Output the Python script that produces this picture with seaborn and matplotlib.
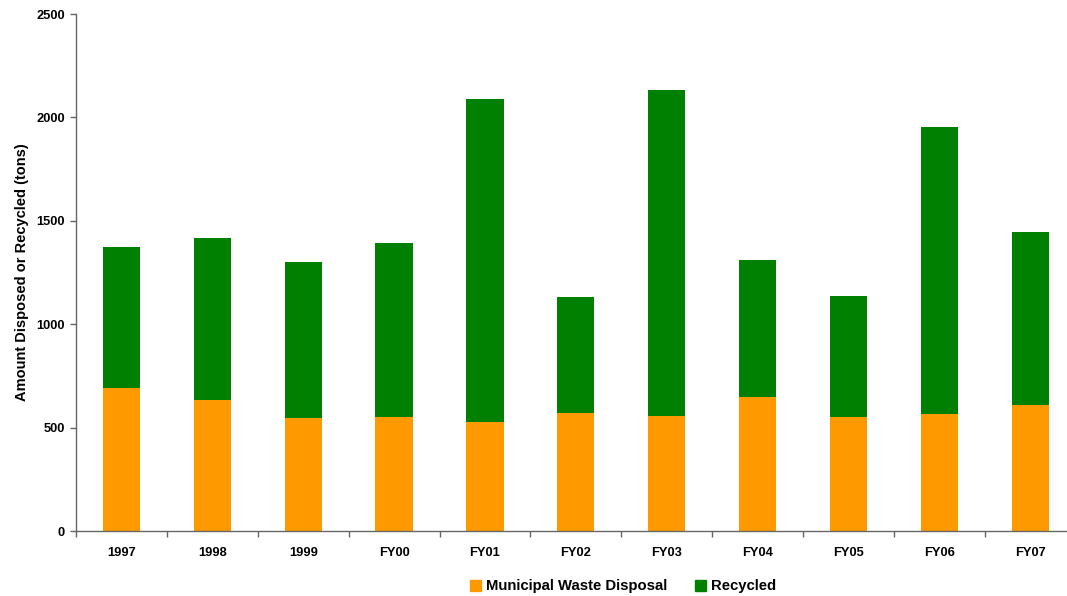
import pandas as pd
import seaborn as sns
import matplotlib.pyplot as plt
from matplotlib.patches import Patch

years = ['1997', '1998', '1999', 'FY00', 'FY01', 'FY02', 'FY03', 'FY04', 'FY05', 'FY06', 'FY07']
municipal = [691, 633, 546, 551, 527, 571, 556, 648, 551, 566, 609]
recycled = [682, 784, 755, 842, 1562, 561, 1577, 662, 585, 1388, 837]

df = pd.DataFrame({'Year': years, 'Municipal': municipal, 'Recycled': recycled})
df['Total'] = df['Municipal'] + df['Recycled']

sns.set_style('white')
plt.rcParams['font.family'] = ['Liberation Sans', 'DejaVu Sans']
plt.rcParams['font.weight'] = 'bold'
plt.rcParams['text.color'] = 'black'
plt.rcParams['axes.labelcolor'] = 'black'
plt.rcParams['xtick.color'] = 'black'
plt.rcParams['ytick.color'] = 'black'

orange = '#FF9900'
green = '#008000'

fig = plt.figure(figsize=(10.67, 5.96), dpi=100)
ax = fig.add_axes([0.0712, 0.109, 0.937, 0.8674])

# stacked: total in green, municipal drawn over it
sns.barplot(data=df, x='Year', y='Total', color=green, width=0.41, saturation=1,
            linewidth=0, ax=ax)
sns.barplot(data=df, x='Year', y='Municipal', color=orange, width=0.41, saturation=1,
            linewidth=0, ax=ax)

ax.set_xlim(-0.5, len(years) - 0.5)
ax.set_ylim(0, 2500)
ax.set_yticks(range(0, 2501, 500))
ax.set_xlabel('')
ax.set_ylabel('Amount Disposed or Recycled (tons)', fontsize=10.5, fontweight='bold', labelpad=5)

ax.set_xticks([i - 0.5 for i in range(len(years) + 1)], minor=True)
ax.tick_params(axis='x', which='major', bottom=False, labelsize=9.3, pad=8)
ax.tick_params(axis='x', which='minor', bottom=True, length=4, width=1, color='#666666', direction='out')
ax.tick_params(axis='y', left=True, length=4, width=1, color='#666666', labelcolor='black',
               direction='out', labelsize=9.3, pad=4)
for lab in ax.get_xticklabels() + ax.get_yticklabels():
    lab.set_fontweight('bold')

sns.despine(ax=ax)
for s in ['left', 'bottom']:
    ax.spines[s].set_color('#666666')
    ax.spines[s].set_linewidth(1)

handles = [Patch(color=orange, label='Municipal Waste Disposal'),
           Patch(color=green, label='Recycled')]
fig.legend(handles=handles, loc='center', bbox_to_anchor=(0.584, 0.016), ncol=2,
           frameon=False, handlelength=0.75, handleheight=0.75,
           handletextpad=0.3, columnspacing=1.9, prop={'weight': 'bold', 'size': 10.7})

fig.savefig('out.png', dpi=100)
